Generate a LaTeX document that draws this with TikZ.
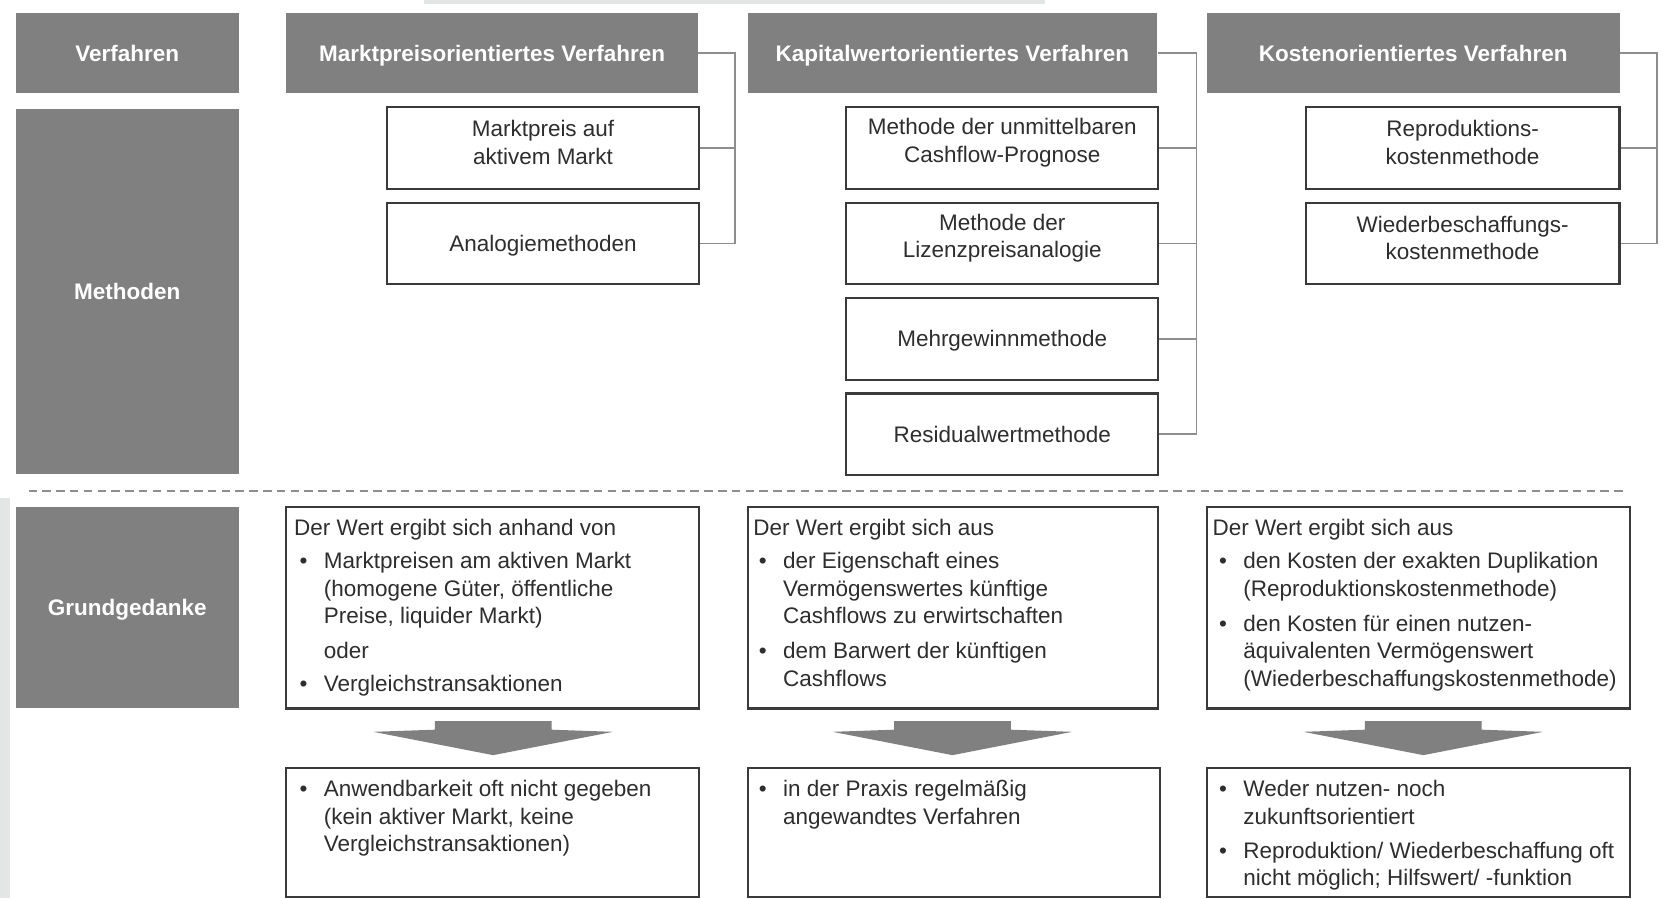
\documentclass[tikz,border=0pt]{standalone}
\usepackage{fontspec}
\setmainfont{Liberation Sans}
\usetikzlibrary{calc}
\definecolor{hdr}{HTML}{808080}
\definecolor{bord}{HTML}{3A3A3A}
\definecolor{conn}{HTML}{8E8E8E}
\definecolor{txtc}{HTML}{2E2E2E}
\definecolor{bgfaint}{HTML}{E4E6E6}
\newcommand\rbox[7]{\node[#6, minimum width={(#4-#2)*0.5pt}, minimum height={(#5-#3)*0.5pt}] (#1) at ({(#2+#4)/2},{(#3+#5)/2}) {#7};}
\newcommand\twoline[2]{\node[mtext] (#1t) at ($(#1.center)+(0,-5)$) {#2};}
\newcommand\tline[4]{\node[txt] (#1) at (#2,#3) {\parbox[t]{12cm}{#4}};}
\newcommand\bitem[4]{\node[txt] (#1b) at ({#2-23},#3) {\textbullet};\node[txt] (#1) at (#2,#3) {\parbox[t]{12cm}{#4}};}
\newcommand\bigarr[1]{\fill[bigarrow] ({#1-55},680) -- ({#1+55},680) -- ({#1+55},688) -- ({#1+113},690) -- (#1,712) -- ({#1-113},690) -- ({#1-55},688) -- cycle;}
\begin{document}
\begin{tikzpicture}[x=0.5pt,y=-0.5pt,
 hdrbox/.style={fill=hdr, draw=none, text=white, font=\bfseries\fontsize{10.6pt}{13pt}\selectfont, inner sep=0, text height=7.6pt, text depth=0pt},
 mbox/.style={draw=bord, line width=1pt, fill=white, align=center, text=txtc, font=\fontsize{10.6pt}{13pt}\selectfont, inner sep=0, text height=7.6pt, text depth=0pt},
 mtext/.style={align=center, text=txtc, font=\fontsize{10.6pt}{13pt}\selectfont, inner sep=0},
 gbox/.style={draw=bord, line width=1pt, fill=white, inner sep=0},
 conline/.style={draw=conn, line width=0.8pt},
 dashline/.style={draw=conn, line width=0.8pt, dash pattern=on 4pt off 2.5pt},
 txt/.style={anchor=base west, inner sep=0, text=txtc, font=\fontsize{10.6pt}{13pt}\selectfont},
 bigarrow/.style={fill=hdr}]
\useasboundingbox (0,0) rectangle (1568,847);
\fill[white] (0,0) rectangle (1568,847);
\fill[bgfaint] (0,470) rectangle (9,847);
\fill[bgfaint] (400,0) rectangle (985,4);
% headers
\rbox{verf}{15}{12}{225}{88}{hdrbox}{Verfahren}
\rbox{h1}{270}{12}{658}{88}{hdrbox}{Marktpreisorientiertes Verfahren}
\rbox{h2}{705}{12}{1091}{88}{hdrbox}{Kapitalwertorientiertes Verfahren}
\rbox{h3}{1138}{12}{1527}{88}{hdrbox}{Kostenorientiertes Verfahren}
\rbox{meth}{15}{103}{225}{447}{hdrbox}{Methoden}
\rbox{grund}{15}{478}{225}{668}{hdrbox}{Grundgedanke}
% method boxes
\rbox{m11}{365}{101}{659}{178}{mbox}{}
\twoline{m11}{Marktpreis auf\\aktivem Markt}
\rbox{m12}{365}{191}{659}{268}{mbox}{Analogiemethoden}
\rbox{m21}{798}{101}{1092}{178}{mbox}{}
\twoline{m21}{Methode der unmittelbaren\\Cashflow-Prognose}
\rbox{m22}{798}{191}{1092}{268}{mbox}{}
\twoline{m22}{Methode der\\Lizenzpreisanalogie}
\rbox{m23}{798}{281}{1092}{358}{mbox}{Mehrgewinnmethode}
\rbox{m24}{798}{371}{1092}{448}{mbox}{Residualwertmethode}
\rbox{m31}{1231}{101}{1527}{178}{mbox}{}
\twoline{m31}{Reproduktions-\\kostenmethode}
\rbox{m32}{1231}{191}{1527}{268}{mbox}{}
\twoline{m32}{Wiederbeschaffungs-\\kostenmethode}
% connectors
\coordinate (c1) at (693,50);
\coordinate (c2) at (1128,50);
\coordinate (c3) at (1562,50);
\draw[conline] (h1.east) -- (c1) |- (m12.east);
\draw[conline] (m11.east) -- (m11.east -| c1);
\draw[conline] (h2.east) -- (c2) |- (m24.east);
\draw[conline] (m21.east) -- (m21.east -| c2);
\draw[conline] (m22.east) -- (m22.east -| c2);
\draw[conline] (m23.east) -- (m23.east -| c2);
\draw[conline] (h3.east) -- (c3) |- (m32.east);
\draw[conline] (m31.east) -- (m31.east -| c3);
% dashed separator
\coordinate (d1) at (27,463);
\coordinate (d2) at (1530,463);
\draw[dashline] (d1) -- (d2);
% Grundgedanke boxes
\rbox{g1}{270}{478}{659}{668}{gbox}{}
\rbox{g2}{705}{478}{1092}{668}{gbox}{}
\rbox{g3}{1138}{478}{1537}{668}{gbox}{}
\rbox{b1}{270}{724}{659}{846}{gbox}{}
\rbox{b2}{705}{724}{1094}{846}{gbox}{}
\rbox{b3}{1138}{724}{1537}{846}{gbox}{}
% arrows
\bigarr{465}
\bigarr{898}
\bigarr{1342}
% texts column 1
\tline{g1t}{277}{505}{Der Wert ergibt sich anhand von}
\bitem{g1a}{305}{536}{Marktpreisen am aktiven Markt\\(homogene Güter, öffentliche\\Preise, liquider Markt)}
\tline{g1o}{305}{621}{oder}
\bitem{g1c}{305}{652}{Vergleichstransaktionen}
% column 2
\tline{g2t}{710}{505}{Der Wert ergibt sich aus}
\bitem{g2a}{738}{536}{der Eigenschaft eines\\Vermögenswertes künftige\\Cashflows zu erwirtschaften}
\bitem{g2b}{738}{621}{dem Barwert der künftigen\\Cashflows}
% column 3
\tline{g3t}{1143}{505}{Der Wert ergibt sich aus}
\bitem{g3a}{1172}{536}{den Kosten der exakten Duplikation\\(Reproduktionskostenmethode)}
\bitem{g3b}{1172}{595}{den Kosten für einen nutzen-\\äquivalenten Vermögenswert\\(Wiederbeschaffungskostenmethode)}
% bottom
\bitem{b1a}{305}{751}{Anwendbarkeit oft nicht gegeben\\(kein aktiver Markt, keine\\Vergleichstransaktionen)}
\bitem{b2a}{738}{751}{in der Praxis regelmäßig\\angewandtes Verfahren}
\bitem{b3a}{1172}{751}{Weder nutzen- noch\\zukunftsorientiert}
\bitem{b3b}{1172}{809}{Reproduktion/ Wiederbeschaffung oft\\nicht möglich; Hilfswert/ -funktion}
\end{tikzpicture}
\end{document}
